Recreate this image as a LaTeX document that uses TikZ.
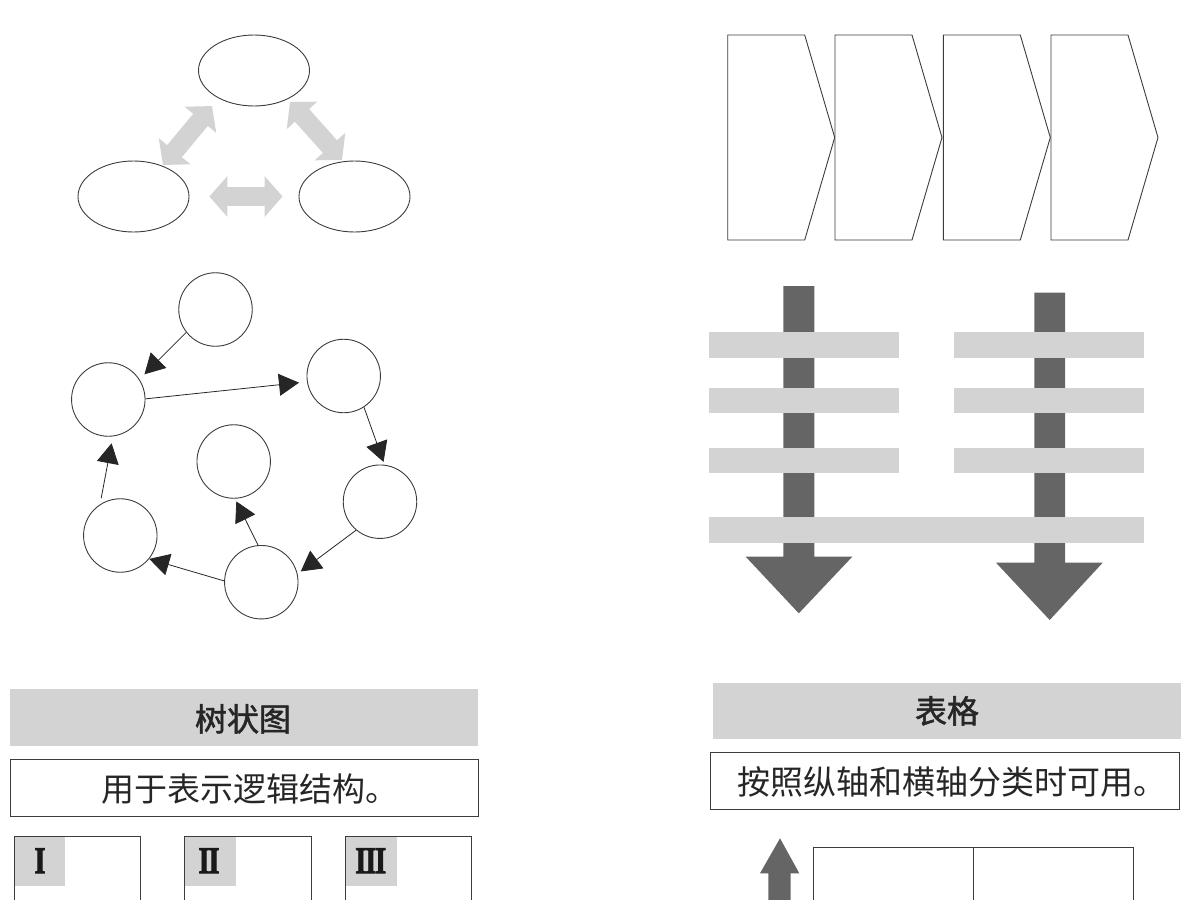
\documentclass[tikz,border=0pt]{standalone}
\usepackage{fontspec}
\usepackage{graphicx}
\setmainfont{Liberation Serif}
\newfontfamily\cjk{Noto Sans CJK SC}
\newfontfamily\cjkhead{Noto Sans CJK SC}[FakeBold=1.6]
\newfontfamily\romanf{Liberation Serif}[UprightFont={* Bold},FakeBold=2.5]
\usetikzlibrary{shapes.geometric,arrows.meta,calc}
\definecolor{lgray}{HTML}{D3D3D3}
\definecolor{dgray}{HTML}{666566}
\definecolor{lineg}{HTML}{3C3C3C}
\tikzset{
  ell/.style={ellipse,draw=lineg,line width=0.9pt,minimum width=111pt,minimum height=71pt,inner sep=0pt},
  circ/.style={circle,draw=lineg,line width=0.9pt,minimum size=73.5pt,inner sep=0pt},
  garrow/.style={lgray,line width=19pt,{Triangle[width=40pt,length=18pt]}-{Triangle[width=40pt,length=18pt]}},
  barrow/.style={black!85,line width=0.8pt,-{Triangle[width=22pt,length=20pt]}},
  outline/.style={draw=lineg,line width=0.9pt},
  bar/.style={fill=lgray},
  darr/.style={fill=dgray},
  headtxt/.style={anchor=base,inner sep=0pt,font=\cjkhead\fontsize{32}{32}\selectfont,text=black!85},
  bodytxt/.style={anchor=base,inner sep=0pt,font=\cjk\fontsize{33}{33}\selectfont,text=black!85},
  roman/.style={inner sep=0pt,font=\romanf\fontsize{37.8}{38}\selectfont,text=black!90}
}
\begin{document}
\begin{tikzpicture}[x=1pt,y=-1pt]
\useasboundingbox (0,0) rectangle (1200,900);
\clip (0,0) rectangle (1200,900);
% ---- triangle of ellipses ----
\node[ell] (T) at (254,70.5) {};
\node[ell] (L) at (133.5,196.5) {};
\node[ell] (R) at (354.5,196.5) {};
\coordinate (lt1) at (163,165);
\coordinate (lt2) at (212,106);
\coordinate (rt1) at (290,102);
\coordinate (rt2) at (342,160);
\draw[garrow] (lt1) -- (lt2);
\draw[garrow] (rt1) -- (rt2);
\draw[garrow] ($(L.east)+(20,0)$) -- ($(R.west)+(-16,0)$);
% ---- cycle of circles ----
\node[circ] (C1) at (215.5,309.5) {};
\node[circ] (C2) at (108.3,399.5) {};
\node[circ] (C3) at (343.7,376) {};
\node[circ] (C4) at (233.7,461.5) {};
\node[circ] (C5) at (380,501.7) {};
\node[circ] (C6) at (120.3,535.5) {};
\node[circ] (C7) at (261.3,582.2) {};
\draw[barrow,shorten >=7pt] (C1.218) -- (C2.33);
\draw[barrow,shorten >=8pt] (C2.1) -- (C3.189);
\draw[barrow,shorten >=3pt] (C3.303) -- (C5.83);
\draw[barrow,shorten >=4pt] (C5.230) -- (C7.13);
\draw[barrow] (C7.178) -- (C6.321);
\draw[barrow,shorten >=3pt] (C7.95) -- (C4.272);
\draw[barrow,shorten <=6pt,shorten >=7pt] (C6.123) -- (C2.277);
% ---- chevrons ----
\foreach \l in {727.7,835,943.3,1051}{
  \draw[outline,fill=white] (\l,35) -- (\l+77,35) -- (\l+107,137.5) -- (\l+77,240) -- (\l,240) -- cycle;
}
% ---- down arrows with bars ----
\fill[darr] (783.3,286) -- (814.3,286) -- (814.3,556.7) -- (852.3,556.7) -- (798.8,613.3) -- (745.7,556.7) -- (783.3,556.7) -- cycle;
\fill[darr] (1034.3,292.7) -- (1065,292.7) -- (1065,562.7) -- (1102.7,562.7) -- (1049.7,620) -- (996,562.7) -- (1034.3,562.7) -- cycle;
\fill[bar] (709,331.7) rectangle (899.3,357.7);
\fill[bar] (709,387.7) rectangle (899.3,413.3);
\fill[bar] (709,447.7) rectangle (899.3,473.3);
\fill[bar] (954.3,331.7) rectangle (1144.3,357.7);
\fill[bar] (954.3,387.7) rectangle (1144.3,413.3);
\fill[bar] (954.3,447.7) rectangle (1144.3,473.3);
\fill[bar] (709,516.7) rectangle (1144.3,542.7);
% ---- tree panel ----
\fill[lgray] (10,689.3) rectangle (478,746);
\node[headtxt] (h1) at (243,731) {树状图};
\draw[outline] (10,759.3) rectangle (478,816);
\node[bodytxt] (b1) at (250,801) {用于表示逻辑结构。};
\foreach \a/\b/\g in {14/140/65, 184.3/311/235.7, 345.7/471.7/396.7}{
  \fill[lgray] (\a,836.7) rectangle (\g,886);
  \draw[outline] (\a,910) -- (\a,836.7) -- (\b,836.7) -- (\b,910);
}
\node[roman] (r1) at (40,860.8) {\scalebox{0.75}[1]{I}};
\node[roman] (r2) at (209,860.8) {\scalebox{0.75}[1]{I\kern-1.5ptI}};
\node[roman] (r3) at (370.8,860.8) {\scalebox{0.75}[1]{I\kern-1.5ptI\kern-1.5ptI}};
% ---- table panel ----
\fill[lgray] (712.7,682.7) rectangle (1181,739);
\node[headtxt] (h2) at (947,723) {表格};
\draw[outline] (710,752.7) rectangle (1179,809.3);
\node[bodytxt] (b2) at (952,794) {按照纵轴和横轴分类时可用。};
\fill[darr] (768.3,910) -- (768.3,873.3) -- (760,873.3) -- (780,838.3) -- (799.3,873.3) -- (790.7,873.3) -- (790.7,910) -- cycle;
\draw[outline] (813.3,910) -- (813.3,847.7) -- (1133.3,847.7) -- (1133.3,910);
\draw[outline] (973.3,847.7) -- (973.3,910);
\end{tikzpicture}
\end{document}
